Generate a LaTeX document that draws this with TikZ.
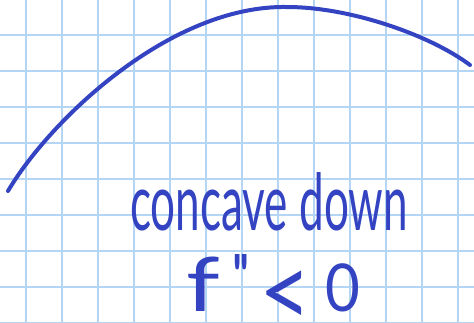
\documentclass[tikz,border=0pt]{standalone}
\usepackage{fontspec}
\setmainfont{Lato}[Numbers=Lining]
\usepackage{graphicx}
\definecolor{gridblue}{HTML}{B4D6F4}
\definecolor{inkblue}{HTML}{3343C2}
\begin{document}
\begin{tikzpicture}[x=1pt,y=-1pt,
  gridline/.style={draw=gridblue,line width=1.8pt},
  ink/.style={draw=inkblue,line width=4pt,line cap=round,line join=round},
  handtext/.style={text=inkblue,inner sep=0pt,outer sep=0pt}]
\fill[white] (0,0) rectangle (474,322);
\useasboundingbox (0,0) rectangle (474,322);
\foreach \k in {0,...,12} \draw[gridline] (26+36*\k,0) -- (26+36*\k,322);
\foreach \k in {0,...,8} \draw[gridline] (0,35+36*\k) -- (474,35+36*\k);
\coordinate (start) at (8,191);
\coordinate (peak) at (287,7);
\coordinate (finish) at (470,65);
\draw[ink] (start) .. controls (50,120) and (170,5) .. (peak)
  .. controls (350,7) and (430,35) .. (finish);
\node[handtext,anchor=south west] (concave) at (130,231) {\resizebox{278pt}{58pt}{concave down}};
\node[handtext,anchor=base west] (ineq) at (186,311) {\fontsize{60}{60}\selectfont
  \scalebox{1.6}[1.25]{f}\kern12pt\raisebox{14pt}{\textquotesingle\kern-5pt\textquotesingle}\kern8pt\raisebox{-16pt}{\scalebox{1.5}[1.7]{<}}\kern14pt\scalebox{1}[1.1]{0}};
\end{tikzpicture}
\end{document}
